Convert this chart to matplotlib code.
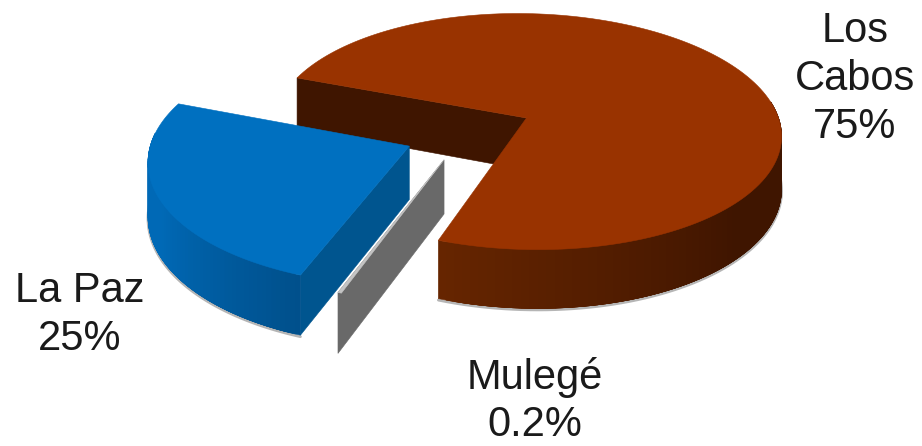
import numpy as np
import matplotlib
matplotlib.use('agg')
import matplotlib.pyplot as plt
from matplotlib.patches import Polygon
from matplotlib.colors import to_rgb

# data
names = ["Los\nCabos", "Mulegé", "La Paz"]
shares = [75, 0.2, 25]

# colours
top_colors = ["#993300", "#c4c4c4", "#0070c0"]
cut_colors = ["#3f1500", "#696969", "#00558f"]
wall_from = ["#662500", "#696969", "#00508c"]
wall_to = ["#3f1500", "#696969", "#0069b6"]

# fake perspective: unit disc -> pixels
cx, cy = 526.5, 118
rx, ry = 252, 116.5
k = 0.115
skew = 0.04
thick = 52
start = 159
explode = [(0, 0), (-0.328, -0.345), (-0.462, -0.235)]
wall_stop = [8, None, -186]  # where the outer wall turns out of sight


def project(u, v, z=0):
    w = 1 + k * v
    return np.column_stack([cx + rx * (u - skew * v) / w, cy - ry * v / w + z * thick / w])


def rim(deg, off, z=0):
    t = np.radians(deg)
    return project(np.cos(t) + off[0], np.sin(t) + off[1], z)


def mix(c1, c2, f):
    a, b = np.array(to_rgb(c1)), np.array(to_rgb(c2))
    return tuple(a + (b - a) * f)


def poly(ax, pts, color, zorder):
    ax.add_patch(Polygon(pts, closed=True, facecolor=color, edgecolor=color, linewidth=0.4, zorder=zorder))


fig = plt.figure(figsize=(9.22, 4.46), dpi=100)
ax = fig.add_axes([0, 0, 1, 1])
ax.set_xlim(0, 922)
ax.set_ylim(446, 0)
ax.axis('off')

# sweep clockwise from the start angle
total = sum(shares)
sweeps = [s / total * 360 for s in shares]
edges = start - np.concatenate([[0], np.cumsum(sweeps)])
layer = {0: 1, 2: 5, 1: 9}

for i in range(len(shares)):
    a0, a1 = edges[i], edges[i + 1]
    off = explode[i]
    z0 = layer[i]
    angles = np.linspace(a0, a1, 160)
    centre = project(np.array([off[0]]), np.array([off[1]]))
    centre_low = project(np.array([off[0]]), np.array([off[1]]), 1)

    # flat cut faces
    a_cut = a1 if i == 1 else a0
    p, q = rim(a_cut, off), rim(a_cut, off, 1)
    poly(ax, np.vstack([centre, p, q, centre_low]), cut_colors[i], z0 + 1 if i == 2 else z0)

    # outer wall, strips overlap so no seams show
    if wall_stop[i] is not None:
        first = a1 if i == 0 else a0
        strip = np.linspace(first, wall_stop[i], 70)
        low = rim(strip, off, 1)
        ax.plot(low[:, 0], low[:, 1] + 1.5, color='#b5b5b5', lw=2, zorder=z0 - 0.5, solid_capstyle='round')
        for j in range(len(strip) - 1):
            f = min(j / (len(strip) * 0.55), 1)
            c = mix(wall_from[i], wall_to[i], f)
            seg = strip[j:j + 5]
            pts = np.vstack([rim(seg, off), rim(seg[::-1], off, 1)])
            poly(ax, pts, c, z0 + 1)

    # top face
    poly(ax, np.vstack([centre, rim(angles, off)]), top_colors[i], z0 + 2)

# labels
label_pos = [(855, 79), (535, 401), (80, 315)]
for name, share, (x, y) in zip(names, shares, label_pos):
    ax.text(x, y, f"{name}\n{share:g}%", ha='center', va='center', fontsize=30,
            family='Liberation Sans', color='#1a1a1a', linespacing=1.25, zorder=20)

fig.savefig('out.png', dpi=100)
